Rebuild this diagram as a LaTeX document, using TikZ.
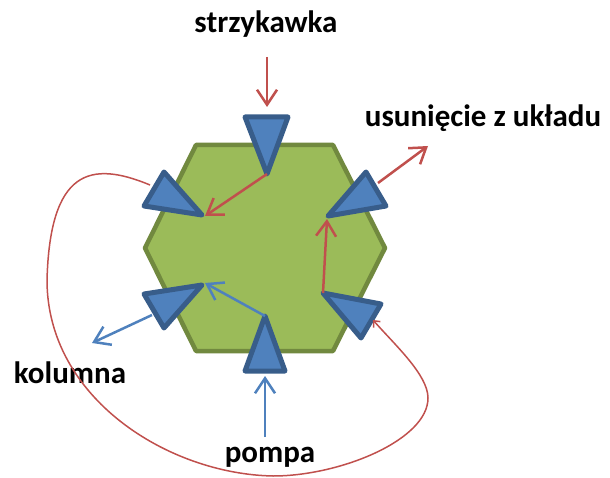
\documentclass[tikz,border=0pt]{standalone}
\usepackage{fontspec}
\setmainfont{Carlito}
\usetikzlibrary{arrows.meta}
\definecolor{hexfill}{HTML}{9BBB59}
\definecolor{hexline}{HTML}{71893F}
\definecolor{trifill}{HTML}{4F81BD}
\definecolor{triline}{HTML}{385D8A}
\definecolor{redline}{HTML}{C0504D}
\definecolor{blueline}{HTML}{4F81BD}
\tikzset{
  hexstyle/.style={fill=hexfill,draw=hexline,line width=4.5pt,line join=round},
  tristyle/.style={fill=trifill,draw=triline,line width=5pt,line join=round},
  redarrow/.style={draw=redline,line width=2.5pt,-{Straight Barb[length=15pt,width=20pt]}},
  bluearrow/.style={draw=blueline,line width=2.5pt,-{Straight Barb[length=15pt,width=20pt]}},
  loopcurve/.style={draw=redline,line width=1.5pt,-{Straight Barb[length=5pt,width=9pt]}},
  label/.style={font=\fontsize{31}{36}\selectfont\bfseries,anchor=base,inner sep=0pt}
}
\begin{document}
\begin{tikzpicture}[x=1pt,y=-1pt]
\useasboundingbox (0,0) rectangle (610,478);
% hexagon
\draw[hexstyle] (145,248) -- (196,145) -- (333,145) -- (385,248) -- (333,351) -- (196,351) -- cycle;
% triangle tips
\coordinate (topT) at (267,174);
\coordinate (ulT) at (202,215);
\coordinate (llT) at (202,285);
\coordinate (botT) at (265,316);
\coordinate (urT) at (328,216);
\coordinate (lrT) at (323,293);
% triangles
\draw[tristyle] (245,117) -- (288,117) -- (topT) -- cycle;
\draw[tristyle] (164,172) -- (144,206) -- (ulT) -- cycle;
\draw[tristyle] (144,294) -- (llT) -- (164,328) -- cycle;
\draw[tristyle] (botT) -- (245,371) -- (285,371) -- cycle;
\draw[tristyle] (366,172) -- (386,206) -- (urT) -- cycle;
\draw[tristyle] (lrT) -- (381,304) -- (361,338) -- cycle;
% labels
\node[label] (strz) at (266,33) {strzykawka};
\node[label] (usun) at (483,127) {usunięcie z układu};
\node[label] (kol) at (70,383) {kolumna};
\node[label] (pom) at (270,462) {pompa};
% connector end points
\coordinate (strzStart) at (267,57);
\coordinate (strzEnd) at (267,107);
\coordinate (ulIn) at (205,216);
\coordinate (urIn) at (327,219);
\coordinate (urOut) at (378,183);
\coordinate (usunEnd) at (428,146);
\coordinate (pomStart) at (265,437);
\coordinate (pomEnd) at (265,376);
\coordinate (llIn) at (205,283);
\coordinate (llOut) at (152,315);
\coordinate (kolEnd) at (92,343);
\coordinate (ulOut) at (150,185);
\coordinate (lrIn) at (373,320);
% arrows
\draw[redarrow] (strzStart) -- (strzEnd);
\draw[redarrow] (topT) -- (ulIn);
\draw[redarrow] (lrT) -- (urIn);
\draw[redarrow] (urOut) -- (usunEnd);
\draw[bluearrow] (pomStart) -- (pomEnd);
\draw[bluearrow] (botT) -- (llIn);
\draw[bluearrow] (llOut) -- (kolEnd);
% loop curve
\draw[loopcurve] (ulOut) .. controls (90,160) and (50,170) .. (47,280)
  .. controls (47,398) and (168,474) .. (273,476)
  .. controls (340,476) and (428,440) .. (428,398)
  .. controls (428,375) and (395,345) .. (lrIn);
\end{tikzpicture}
\end{document}
